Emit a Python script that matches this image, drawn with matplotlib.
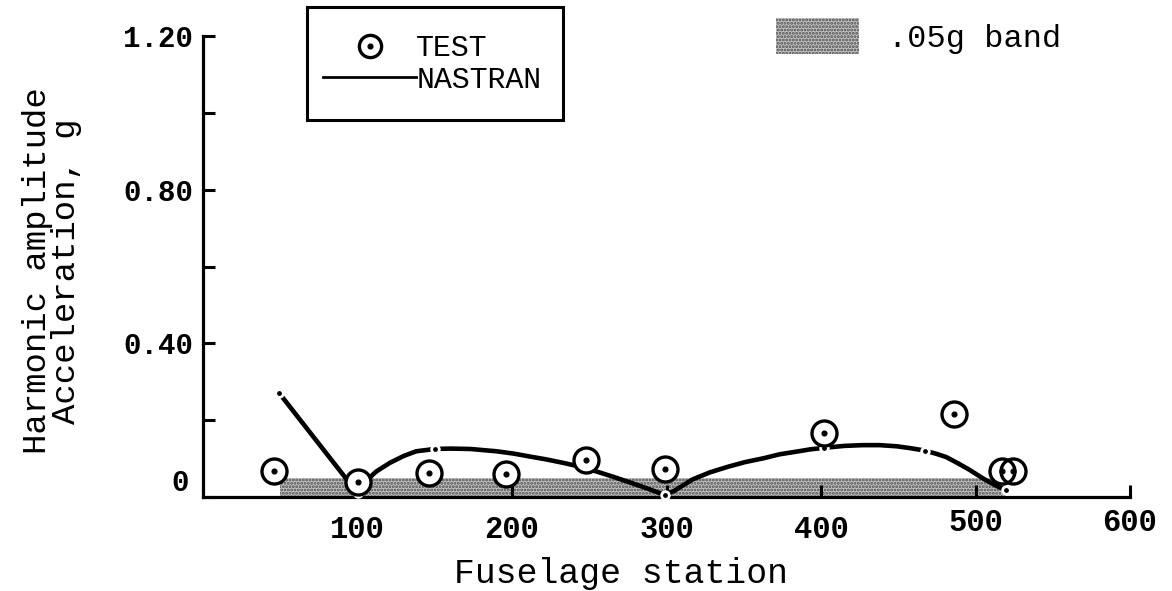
import matplotlib
matplotlib.use("Agg")
import matplotlib.pyplot as plt
import matplotlib.transforms as mtransforms
from matplotlib.lines import Line2D
from matplotlib.patches import Patch, Rectangle

plt.rcParams['font.family'] = ['Liberation Mono', 'DejaVu Sans Mono']
plt.rcParams['hatch.linewidth'] = 1.4

# Measured harmonic acceleration amplitudes (TEST)
test_station = [46, 100, 146, 196, 248, 299, 402, 486, 517, 524]
test_accel = [0.068, 0.040, 0.062, 0.059, 0.096, 0.072, 0.167, 0.216, 0.068, 0.068]

# NASTRAN prediction
nastran_station = [49, 100, 104, 112, 121, 130, 138, 150, 160, 173, 190, 201,
                   212, 222, 233, 244, 255, 266, 277, 287, 299, 305, 311, 317,
                   328, 340, 351, 363, 373, 384, 393, 402, 415, 427, 438, 449,
                   458, 467, 475, 481, 489, 496, 505, 514, 520]
nastran_accel = [0.272, 0.010, 0.036, 0.066, 0.089, 0.107, 0.119, 0.125, 0.126,
                 0.125, 0.119, 0.113, 0.105, 0.098, 0.089, 0.079, 0.066, 0.052,
                 0.037, 0.023, 0.005, 0.016, 0.031, 0.046, 0.064, 0.079, 0.091,
                 0.101, 0.111, 0.118, 0.124, 0.128, 0.133, 0.135, 0.135, 0.132,
                 0.127, 0.121, 0.112, 0.104, 0.087, 0.071, 0.048, 0.028, 0.018]
# stations where the model output is computed (dots on the curve)
node_index = [0, 1, 7, 20, 31, 37, 44]

# .05g tolerance band
band_station = [50, 520]
band_level = 0.05

xticks = [100, 200, 300, 400, 500, 600]
xtick_labels = ['100', '200', '300', '400', '500', '600']
yticks_major = [0.0, 0.40, 0.80, 1.20]
ytick_labels = ['0', '0.40', '0.80', '1.20']
yticks_minor = [0.20, 0.60, 1.00]

W, H = 1172, 591
fig = plt.figure(figsize=(W / 100, H / 100), dpi=100)
ax = fig.add_axes([203 / W, 1 - 497 / H, 927 / W, 461 / H])
ax.set_xlim(0, 600)
ax.set_ylim(0, 1.2)

band_face = '#c4c4c4'
band_hatch = '.....'
band_edge = '#4a4a4a'
ax.fill_between(band_station, 0, band_level, facecolor=band_face,
                hatch=band_hatch, edgecolor=band_edge, linewidth=0, zorder=1)

# NASTRAN curve with small gaps around computed points
ax.plot(nastran_station, nastran_accel, color='black', lw=3.3,
        solid_capstyle='round', solid_joinstyle='round', zorder=3)
ax.plot([nastran_station[i] for i in node_index],
        [nastran_accel[i] for i in node_index], ls='none', marker='o', ms=5.5,
        mfc='black', mec='white', mew=2.0, zorder=3.5, clip_on=False)

# TEST symbols: white disc, outline, centre dot
ax.plot(test_station, test_accel, ls='none', marker='o', ms=18, mfc='white',
        mec='none', zorder=4, clip_on=False)
ax.plot(test_station, test_accel, ls='none', marker='o', ms=18, mfc='none',
        mec='black', mew=2.4, zorder=5, clip_on=False)
ax.plot(test_station, test_accel, ls='none', marker='o', ms=3.4, color='black',
        zorder=5, clip_on=False)

# axes styling
for side in ('top', 'right'):
    ax.spines[side].set_visible(False)
for side in ('left', 'bottom'):
    ax.spines[side].set_linewidth(2.3)
ax.set_xticks(xticks, xtick_labels)
ax.set_yticks(yticks_major, ytick_labels)
ax.set_yticks(yticks_minor, minor=True)
ax.tick_params(axis='both', which='both', direction='in', length=8.6, width=2.2)
ax.tick_params(axis='x', pad=13, labelsize=22)
ax.tick_params(axis='y', pad=7, labelsize=21)
for lab in ax.get_xticklabels() + ax.get_yticklabels():
    lab.set_fontweight('bold')

# raise the origin label and the last two station labels a little
ax.get_yticklabels()[0].set_transform(
    ax.get_yticklabels()[0].get_transform()
    + mtransforms.ScaledTranslation(-0.04, 0.17, fig.dpi_scale_trans))
for lab in ax.get_xticklabels()[4:]:
    lab.set_transform(lab.get_transform()
                      + mtransforms.ScaledTranslation(0, 0.07, fig.dpi_scale_trans))

ax.set_xlabel('Fuselage station', fontsize=25)
ax.xaxis.set_label_coords(0.451, -0.130)
ax.set_ylabel('Harmonic amplitude\nAcceleration, g', fontsize=24.5,
              linespacing=0.95)
ax.yaxis.set_label_coords(-0.130, 0.49)

# legend: TEST / NASTRAN inside a box
circ = Line2D([], [], ls='none', marker='o', ms=16, mfc='white', mec='black', mew=2.4)
dot = Line2D([], [], ls='none', marker='o', ms=3.4, color='black')
nline = Line2D([], [], color='black', lw=2.0)
leg1 = ax.legend(handles=[(circ, dot), nline], labels=['TEST', 'NASTRAN'],
                 loc='upper left', bbox_to_anchor=(323 / W, 1 - 34 / H),
                 bbox_transform=fig.transFigure, frameon=False, borderpad=0,
                 borderaxespad=0, handlelength=3.12, handletextpad=0.0,
                 labelspacing=0.12, fontsize=21.5)
ax.add_artist(leg1)
fig.add_artist(Rectangle((307 / W, 1 - 120 / H), 256 / W, 113 / H,
                         transform=fig.transFigure, fill=False, lw=2.2,
                         ec='black'))

# legend: band swatch
swatch = Patch(facecolor=band_face, hatch=band_hatch, edgecolor=band_edge, lw=0)
ax.legend(handles=[swatch], labels=['.05g band'], loc='upper left',
          bbox_to_anchor=(776 / W, 1 - 18 / H), bbox_transform=fig.transFigure,
          frameon=False, borderpad=0, borderaxespad=0, handlelength=2.6,
          handleheight=1.38, handletextpad=0.9, fontsize=23)

fig.savefig('out.png', dpi=100)
